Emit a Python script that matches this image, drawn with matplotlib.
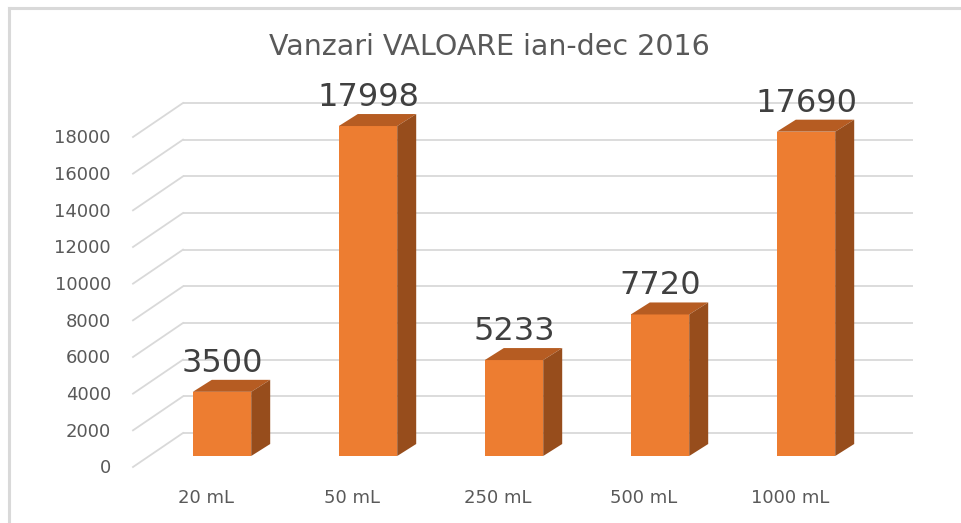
import matplotlib
matplotlib.use("Agg")
import matplotlib.pyplot as plt
from matplotlib.patches import Polygon
from matplotlib.lines import Line2D

# ---- data ----
categories = ["20 mL", "50 mL", "250 mL", "500 mL", "1000 mL"]
values = [3500, 17998, 5233, 7720, 17690]
y_ticks = [0, 2000, 4000, 6000, 8000, 10000, 12000, 14000, 16000, 18000]
title = "Vanzari VALOARE ian-dec 2016"

# ---- style ----
W, H, DPI = 961, 523, 100
FONT = "DejaVu Sans"
TXT = "#595959"
LBL = "#404040"
GRID = "#D9D9D9"
FRONT = "#ED7D31"
TOP = "#B65C22"
SIDE = "#974D1C"

fig = plt.figure(figsize=(W / DPI, H / DPI), dpi=DPI)
fig.patch.set_facecolor("white")

# bar plane axes (pixel geometry)
left_px, right_px, y0_px, ytop_px = 149, 879, 456, 126
ax = fig.add_axes([left_px / W, (H - y0_px) / H, (right_px - left_px) / W,
                   (y0_px - ytop_px) / H])
ax.set_xlim(-0.5, len(categories) - 0.5)
ax.set_ylim(0, 18000)
ax.axis("off")

px_x = (len(categories)) / (right_px - left_px)        # data per px (x)
px_y = 18000 / (y0_px - ytop_px)                        # data per px (y)

# 3D offsets in pixels
BACK = (34, 23)     # back wall relative to bar plane
FRONTP = (-16, -11) # front plane relative to bar plane
DEPTH = (19, 12)    # bar depth

bx, by = BACK[0] * px_x, BACK[1] * px_y
fx, fy = FRONTP[0] * px_x, FRONTP[1] * px_y
x_lo, x_hi = -0.5, len(categories) - 0.5

# gridlines on back wall + diagonal side wall lines
for v in y_ticks:
    ax.plot([x_lo + bx, x_hi + bx], [v + by, v + by], color=GRID, lw=1.3,
            clip_on=False, zorder=1, solid_capstyle="butt")
    ax.plot([x_lo + fx, x_lo + bx], [v + fy, v + by], color=GRID, lw=1.3,
            clip_on=False, zorder=1)
    ax.annotate(f"{v}", xy=(x_lo, v), xytext=((FRONTP[0] - 22) * 0.72, FRONTP[1] * 0.72 - 1),
                textcoords="offset points", ha="right", va="center",
                fontsize=13, color=TXT, family=FONT, annotation_clip=False)

# bars
bw = 0.4
dx, dy = DEPTH[0] * px_x, DEPTH[1] * px_y
xs = list(range(len(categories)))
ax.bar(xs, values, width=bw, color=FRONT, zorder=3, clip_on=False)
for x, v in zip(xs, values):
    xl, xr = x - bw / 2, x + bw / 2
    ax.add_patch(Polygon([(xl, v), (xr, v), (xr + dx, v + dy), (xl + dx, v + dy)],
                         closed=True, facecolor=TOP, edgecolor="none", zorder=3, clip_on=False))
    ax.add_patch(Polygon([(xr, 0), (xr + dx, dy), (xr + dx, v + dy), (xr, v)],
                         closed=True, facecolor=SIDE, edgecolor="none", zorder=3, clip_on=False))
    ax.annotate(f"{v}", xy=(x, v), xytext=(0, 20 * 0.72), textcoords="offset points",
                ha="center", va="baseline", fontsize=23, color=LBL, family=FONT,
                annotation_clip=False, zorder=5)

# category labels on front plane
for x, c in zip(xs, categories):
    ax.annotate(c, xy=(x, 0), xytext=(FRONTP[0] * 0.72, -33 * 0.72),
                textcoords="offset points", ha="center", va="top",
                fontsize=13, color=TXT, family=FONT, annotation_clip=False)

# title
fig.text(489 / W, 1 - 47 / H, title, ha="center", va="center", fontsize=20.5,
         color=TXT, family=FONT)

# chart-area frame (top and left edges visible)
fig.add_artist(Line2D([8.5 / W, 1.0], [1 - 8 / H, 1 - 8 / H], transform=fig.transFigure,
                      color=GRID, lw=2.2))
fig.add_artist(Line2D([8.5 / W, 8.5 / W], [0, 1 - 8 / H], transform=fig.transFigure,
                      color=GRID, lw=2.2))

fig.savefig("out.png", dpi=DPI, facecolor="white")
